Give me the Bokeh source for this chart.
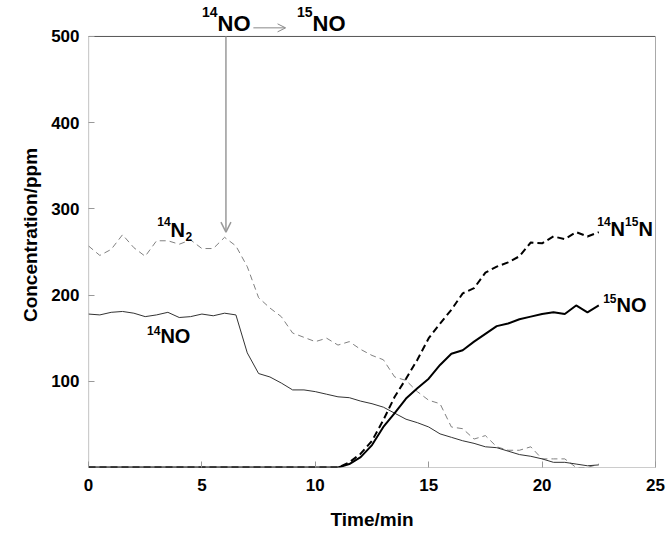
from bokeh.plotting import figure
from bokeh.models import Range1d, FixedTicker, Arrow, OpenHead
from bokeh.core.properties import value
from bokeh.embed import file_html
from bokeh.resources import INLINE

# ---- data (time in min, concentration in ppm) ----
time = [i * 0.5 for i in range(46)]  # 0 .. 22.5

n14_2 = [257, 246, 253, 270, 255, 245, 263, 263, 259, 264, 254, 254, 267, 257,
         233, 197, 185, 175, 156, 151, 146, 150, 142, 146, 137, 130, 125, 105,
         101, 88, 78, 74, 47, 45, 33, 37, 24, 20, 20, 24, 10, 10, 10, 0, 0, 4]

no14 = [178, 177, 180, 181, 179, 175, 177, 180, 174, 175, 178, 176, 179, 177,
        133, 109, 105, 98, 90, 90, 88, 85, 82, 81, 77, 74, 70, 63, 56, 52, 47,
        39, 35, 31, 28, 24, 23, 19, 15, 13, 10, 6, 6, 4, 2, 3]

no15 = [0] * 23 + [4, 12, 26, 47, 63, 80, 92, 103, 119, 132, 136, 146, 155, 164,
                   167, 172, 175, 178, 180, 178, 188, 180, 188]

n14n15 = [0] * 23 + [6, 16, 31, 55, 82, 103, 125, 150, 167, 183, 202, 208, 226,
                     233, 238, 245, 261, 260, 268, 265, 273, 268, 273]

x_ticks = [0, 5, 10, 15, 20, 25]
y_ticks = [100, 200, 300, 400, 500]
x_min, x_max = 0, 25
y_min, y_max = 0, 500

FONT = "Liberation Sans"

# the frame reaches a little above 500 so the top annotation is drawn inside it
p = figure(width=666, height=533, x_range=Range1d(x_min, x_max),
           y_range=Range1d(y_min, 539.4),
           output_backend="svg", toolbar_location=None,
           min_border_left=88, min_border_right=11, min_border_top=2,
           min_border_bottom=66)

p.xgrid.visible = False
p.ygrid.visible = False
p.outline_line_color = None
p.background_fill_color = "white"
p.border_fill_color = "white"

p.xaxis.ticker = FixedTicker(ticks=x_ticks)
p.yaxis.ticker = FixedTicker(ticks=y_ticks)
for ax in (p.xaxis[0], p.yaxis[0]):
    ax.axis_line_color = None
    ax.major_tick_line_color = "#999999"
    ax.major_tick_in = 6
    ax.major_tick_out = 0
    ax.minor_tick_line_color = None
    ax.major_label_text_font = FONT
    ax.major_label_text_font_style = "bold"
    ax.major_label_text_font_size = "17px"
    ax.major_label_text_color = "black"
    ax.axis_label_text_font = FONT
    ax.axis_label_text_font_style = "bold"
    ax.axis_label_text_font_size = "19px"
    ax.axis_label_text_color = "black"

p.xaxis.axis_label = "Time/min"
p.yaxis.axis_label = "Concentration/ppm"
p.xaxis.major_label_standoff = 11
p.yaxis.major_label_standoff = 9
p.xaxis.axis_label_standoff = 15
p.yaxis.axis_label_standoff = 7

# frame box: left/bottom lighter, top/right darker
p.line([x_min, x_min], [y_max, y_min], line_color="#999999", line_width=1.2)
p.line([x_min, x_max], [y_min, y_min], line_color="#999999", line_width=1.2)
p.line([x_min, x_max, x_max], [y_max, y_max, y_min], line_color="#555555", line_width=1)

# ---- data lines ----
p.line(time, n14_2, line_color="#808080", line_width=1, line_dash="6 4")
p.line(time, no14, line_color="#333333", line_width=1)
p.line(time, no15, line_color="black", line_width=2)
p.line(time, n14n15, line_color="black", line_width=2, line_dash="7 4")


def lab(x, y, text, size, align="left"):
    p.text(x=[x], y=[y], text=[text], text_font=value(FONT), text_font_style="bold",
           text_font_size=size, text_color="black", text_align=align,
           text_baseline="alphabetic")


# top annotation
lab(5.69, 528, "14", "14px", "right")
lab(5.69, 515, "NO", "22px")
lab(9.88, 528, "15", "14px", "right")
lab(9.88, 515, "NO", "22px")
p.add_layout(Arrow(end=OpenHead(size=8, line_color="#888888", line_width=1),
                   x_start=7.27, y_start=510, x_end=8.69, y_end=510,
                   line_color="#888888", line_width=1))

# vertical switch arrow
p.add_layout(Arrow(end=OpenHead(size=10, line_color="#999999", line_width=1.5),
                   x_start=6.06, y_start=500, x_end=6.06, y_end=273,
                   line_color="#999999", line_width=1.5))

# in-plot labels
lab(3.62, 285, "14", "12px", "right")
lab(3.62, 276, "N", "20px")
lab(4.28, 268, "2", "12px")

lab(3.17, 159, "14", "12px", "right")
lab(3.17, 152, "NO", "20px")

lab(23.02, 285, "14", "12px", "right")
lab(23.02, 277, "N", "20px")
lab(23.66, 285, "15", "12px")
lab(24.25, 277, "N", "20px")

lab(23.28, 196, "15", "12px", "right")
lab(23.28, 189, "NO", "20px")

open("out.html", "w").write(file_html(p, INLINE))
